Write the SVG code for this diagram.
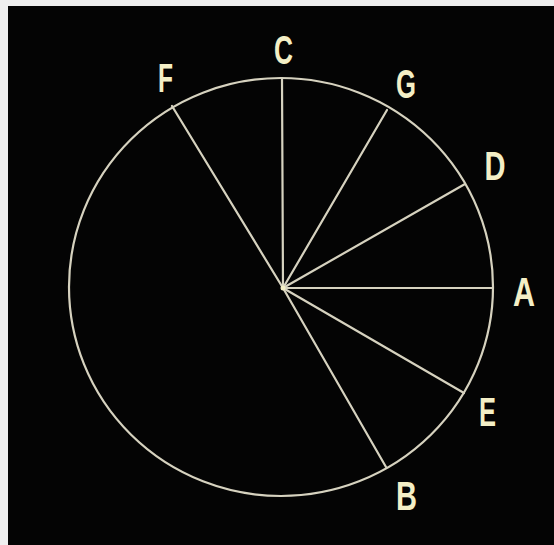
<svg xmlns="http://www.w3.org/2000/svg" width="554" height="545" viewBox="0 0 554 545">
<style>
.ln{stroke:#d6d2bf;stroke-width:2.2;fill:none;stroke-linecap:round}
.lb{font-family:"Liberation Sans",Arial,sans-serif;font-size:41px;font-weight:bold;fill:#f4efc6;text-anchor:middle}
</style>
<rect width="554" height="545" fill="#efefef"/>
<rect x="8" y="6" width="546" height="539" fill="#040404"/>
<g id="circle"><ellipse class="ln" cx="281" cy="287" rx="212" ry="209"/></g>
<g id="connectors">
<line class="ln" x1="283" y1="288" x2="282" y2="78"/>
<line class="ln" x1="283" y1="288" x2="172" y2="106"/>
<line class="ln" x1="283" y1="288" x2="387" y2="110"/>
<line class="ln" x1="283" y1="288" x2="465" y2="184"/>
<line class="ln" x1="283" y1="288" x2="493" y2="288"/>
<line class="ln" x1="283" y1="288" x2="464" y2="393"/>
<line class="ln" x1="283" y1="288" x2="386" y2="467"/>
</g>
<circle cx="283" cy="288" r="2.5" fill="#f4efc6"/>
<g id="C"><text class="lb" x="283.5" y="64" textLength="19" lengthAdjust="spacingAndGlyphs">C</text></g>
<g id="F"><text class="lb" x="165.5" y="92" textLength="15" lengthAdjust="spacingAndGlyphs">F</text></g>
<g id="G"><text class="lb" x="406" y="98" textLength="20" lengthAdjust="spacingAndGlyphs">G</text></g>
<g id="D"><text class="lb" x="495" y="180" textLength="21" lengthAdjust="spacingAndGlyphs">D</text></g>
<g id="A"><text class="lb" x="524" y="306" textLength="22" lengthAdjust="spacingAndGlyphs">A</text></g>
<g id="E"><text class="lb" x="487.5" y="426" textLength="17" lengthAdjust="spacingAndGlyphs">E</text></g>
<g id="B"><text class="lb" x="406.5" y="510" textLength="21" lengthAdjust="spacingAndGlyphs">B</text></g>
</svg>
